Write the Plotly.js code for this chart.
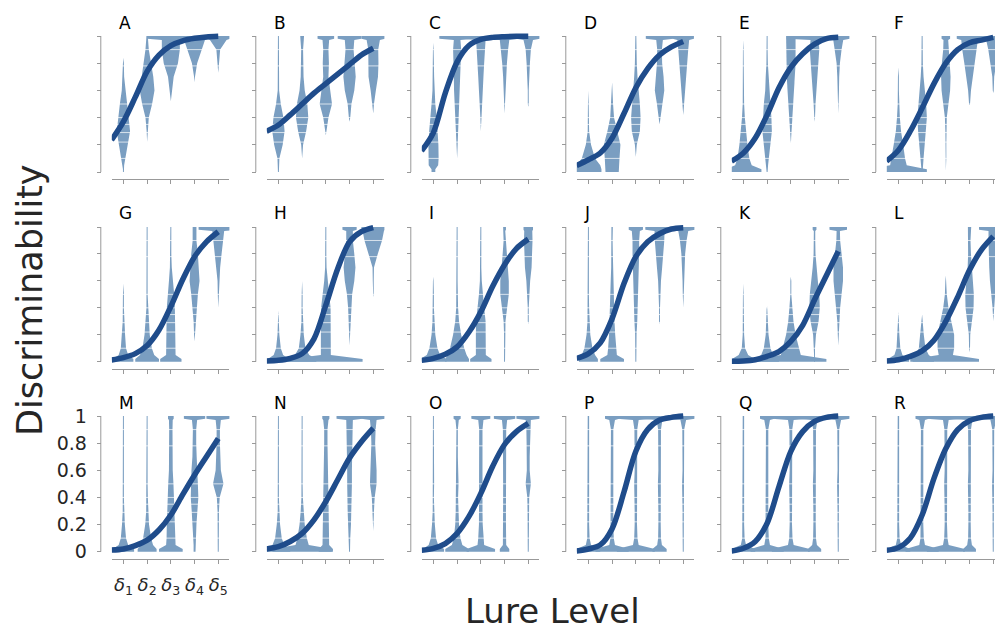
<!DOCTYPE html>
<html><head><meta charset="utf-8">
<script src="https://cdn.plot.ly/plotly-3.0.1.min.js"></script>
<style>html,body{margin:0;padding:0;overflow:hidden;background:#fff;width:995px;height:628px}</style>
</head><body><div id="chart" style="width:1010px;height:628px"></div>
<script>
// ---------------- DATA ----------------
const PANELS = ['A','B','C','D','E','F','G','H','I','J','K','L','M','N','O','P','Q','R'];
const LURE_X = [1, 2, 3, 4, 5];
const LURE_LABELS = ['<i>δ</i><sub>1</sub>','<i>δ</i><sub>2</sub>','<i>δ</i><sub>3</sub>','<i>δ</i><sub>4</sub>','<i>δ</i><sub>5</sub>'];
const Y_TICKS = [0, 0.2, 0.4, 0.6, 0.8, 1];
const Y_TICK_LABELS = ['0', '0.2', '0.4', '0.6', '0.8', '1'];
// density profile levels (half-widths of each violin are given at these levels)
const LEVELS = [0, 0.05, 0.1, 0.2, 0.3, 0.4, 0.5, 0.6, 0.7, 0.8, 0.9, 0.97, 1];
const CURVE_X = [0.5, 1, 1.5, 2, 2.5, 3, 3.5, 4, 4.5, 5];
const GRID_Y = [0.1, 0.22, 0.29, 0.35, 0.4, 0.5, 0.78, 0.9];

const A_curve = [0.235, 0.37, 0.55, 0.74, 0.86, 0.93, 0.965, 0.983, 0.993, 0.998];
const A_lo = [0, 0.22, 0.52, 0.66, 0.73];
const A_hi = [0.84, 1, 1, 1, 1];
const A_w = [
 [0.02, 0.03, 0.08, 0.19, 0.28, 0.22, 0.15, 0.07, 0.03, 0.02, 0, 0, 0],
 [0, 0, 0, 0, 0.02, 0.07, 0.21, 0.31, 0.26, 0.15, 0.07, 0.04, 0.03],
 [0, 0, 0, 0, 0, 0, 0, 0.04, 0.12, 0.3, 0.38, 0.38, 1.0],
 [0, 0, 0, 0, 0, 0, 0, 0, 0.02, 0.11, 0.31, 0.44, 0.6],
 [0, 0, 0, 0, 0, 0, 0, 0, 0, 0.03, 0.08, 0.35, 0.5]];

const B_curve = [0.30, 0.345, 0.42, 0.50, 0.58, 0.65, 0.72, 0.79, 0.86, 0.91];
const B_lo = [0, 0.1, 0.27, 0.37, 0.43];
const B_hi = [1, 1, 1, 1, 1];
const B_w = [
 [0.02, 0.02, 0.04, 0.18, 0.26, 0.21, 0.1, 0.03, 0.02, 0.02, 0.02, 0.02, 0.02],
 [0, 0, 0, 0.04, 0.17, 0.26, 0.22, 0.11, 0.06, 0.04, 0.04, 0.07, 0.08],
 [0, 0, 0, 0, 0.02, 0.11, 0.26, 0.18, 0.11, 0.13, 0.11, 0.14, 0.35],
 [0, 0, 0, 0, 0, 0.03, 0.08, 0.2, 0.26, 0.22, 0.17, 0.2, 0.5],
 [0, 0, 0, 0, 0, 0, 0.03, 0.11, 0.2, 0.22, 0.21, 0.28, 0.5]];

const C_curve = [0.155, 0.29, 0.58, 0.81, 0.93, 0.975, 0.99, 0.995, 0.998, 0.999];
const C_lo = [0, 0.1, 0.3, 0.43, 0.48];
const C_hi = [0.95, 1, 1, 1, 1];
const C_w = [
 [0.08, 0.2, 0.22, 0.21, 0.18, 0.14, 0.08, 0.04, 0.03, 0.02, 0.02, 0, 0],
 [0, 0, 0, 0.02, 0.04, 0.08, 0.11, 0.13, 0.14, 0.14, 0.17, 0.14, 0.75],
 [0, 0, 0, 0, 0, 0.02, 0.04, 0.08, 0.11, 0.14, 0.17, 0.2, 0.75],
 [0, 0, 0, 0, 0, 0, 0.02, 0.03, 0.06, 0.1, 0.15, 0.2, 0.6],
 [0, 0, 0, 0, 0, 0, 0.02, 0.02, 0.03, 0.07, 0.11, 0.2, 0.5]];

const D_curve = [0.047, 0.09, 0.14, 0.25, 0.43, 0.62, 0.76, 0.86, 0.92, 0.96];
const D_lo = [0, 0, 0.11, 0.35, 0.42];
const D_hi = [0.6, 0.66, 1, 1, 1];
const D_w = [
 [0.55, 0.5, 0.28, 0.11, 0.03, 0.02, 0.02, 0, 0, 0, 0, 0, 0],
 [0.28, 0.28, 0.31, 0.35, 0.2, 0.08, 0.04, 0.02, 0, 0, 0, 0, 0],
 [0, 0, 0, 0.04, 0.17, 0.2, 0.17, 0.11, 0.07, 0.04, 0.03, 0.02, 0.02],
 [0, 0, 0, 0, 0, 0.04, 0.11, 0.2, 0.17, 0.11, 0.1, 0.14, 0.58],
 [0, 0, 0, 0, 0, 0, 0.03, 0.07, 0.11, 0.17, 0.21, 0.25, 0.45]];

const E_curve = [0.08, 0.14, 0.25, 0.42, 0.62, 0.77, 0.87, 0.94, 0.98, 0.99];
const E_lo = [0, 0, 0.21, 0.37, 0.43];
const E_hi = [0.97, 1, 1, 1, 1];
const E_w = [
 [0.76, 0.35, 0.25, 0.17, 0.1, 0.06, 0.03, 0.02, 0.02, 0.02, 0.02, 0, 0],
 [0.02, 0.04, 0.07, 0.14, 0.2, 0.18, 0.14, 0.08, 0.06, 0.03, 0.02, 0.02, 0.02],
 [0, 0, 0, 0, 0.03, 0.07, 0.11, 0.14, 0.17, 0.2, 0.2, 0.2, 0.2],
 [0, 0, 0, 0, 0, 0.02, 0.04, 0.08, 0.13, 0.17, 0.2, 0.17, 1.17],
 [0, 0, 0, 0, 0, 0, 0.02, 0.03, 0.04, 0.07, 0.14, 0.21, 0.5]];

const F_curve = [0.08, 0.16, 0.30, 0.47, 0.65, 0.80, 0.90, 0.95, 0.97, 0.99];
const F_lo = [0, 0, 0.01, 0.49, 0.58];
const F_hi = [0.77, 1, 1, 1, 1];
const F_w = [
 [1.2, 0.35, 0.28, 0.2, 0.11, 0.06, 0.03, 0.02, 0.02, 0, 0, 0, 0],
 [0.02, 0.04, 0.06, 0.11, 0.17, 0.2, 0.17, 0.11, 0.06, 0.03, 0.02, 0.02, 0.02],
 [0, 0.02, 0.02, 0.02, 0.02, 0.04, 0.11, 0.18, 0.2, 0.17, 0.11, 0.1, 0.18],
 [0, 0, 0, 0, 0, 0, 0.02, 0.06, 0.14, 0.22, 0.31, 0.35, 0.54],
 [0, 0, 0, 0, 0, 0, 0, 0.02, 0.04, 0.11, 0.21, 0.3, 0.5]];

const G_curve = [0.012, 0.03, 0.06, 0.12, 0.235, 0.41, 0.61, 0.78, 0.89, 0.965];
const G_lo = [0, 0, 0, 0.15, 0.4];
const G_hi = [0.58, 1, 1, 1, 1];
const G_w = [
 [0.42, 0.2, 0.11, 0.07, 0.03, 0.02, 0.02, 0, 0, 0, 0, 0, 0],
 [0.5, 0.3, 0.2, 0.11, 0.07, 0.03, 0.02, 0.02, 0.02, 0.02, 0.02, 0.02, 0.02],
 [0.45, 0.2, 0.2, 0.2, 0.18, 0.17, 0.14, 0.08, 0.04, 0.02, 0.02, 0.02, 0.02],
 [0, 0, 0, 0.02, 0.04, 0.08, 0.14, 0.21, 0.18, 0.14, 0.08, 0.08, 0.08],
 [0, 0, 0, 0, 0, 0, 0.02, 0.03, 0.08, 0.14, 0.21, 0.25, 0.83]];

const H_curve = [0.005, 0.01, 0.025, 0.06, 0.17, 0.42, 0.69, 0.89, 0.965, 0.995];
const H_lo = [0, 0, 0, 0.12, 0.48];
const H_hi = [0.38, 0.6, 1, 1, 1];
const H_w = [
 [0.45, 0.2, 0.1, 0.04, 0.02, 0, 0, 0, 0, 0, 0, 0, 0],
 [0.6, 0.3, 0.14, 0.07, 0.03, 0.02, 0.02, 0, 0, 0, 0, 0, 0],
 [1.55, 0.21, 0.21, 0.21, 0.21, 0.2, 0.14, 0.07, 0.03, 0.02, 0.02, 0.02, 0.02],
 [0, 0, 0, 0.02, 0.03, 0.06, 0.11, 0.2, 0.25, 0.2, 0.14, 0.14, 0.3],
 [0, 0, 0, 0, 0, 0, 0.02, 0.02, 0.03, 0.19, 0.37, 0.45, 0.5]];

const I_curve = [0.01, 0.025, 0.055, 0.11, 0.22, 0.37, 0.56, 0.72, 0.84, 0.91];
const I_lo = [0, 0, 0, 0, 0.28];
const I_hi = [0.63, 1, 1, 1, 1];
const I_w = [
 [0.55, 0.28, 0.17, 0.08, 0.04, 0.02, 0.02, 0.02, 0, 0, 0, 0, 0],
 [0.5, 0.4, 0.3, 0.17, 0.08, 0.04, 0.02, 0.02, 0.02, 0.02, 0.02, 0.02, 0.02],
 [0.45, 0.21, 0.21, 0.21, 0.2, 0.14, 0.08, 0.04, 0.02, 0.02, 0.02, 0.02, 0.02],
 [0.02, 0.02, 0.02, 0.02, 0.04, 0.11, 0.18, 0.18, 0.14, 0.08, 0.04, 0.03, 0.06],
 [0, 0, 0, 0, 0.02, 0.02, 0.04, 0.08, 0.14, 0.17, 0.18, 0.17, 0.2]];

const J_curve = [0.025, 0.06, 0.14, 0.32, 0.58, 0.78, 0.89, 0.95, 0.985, 0.995];
const J_lo = [0, 0, 0, 0.28, 0.4];
const J_hi = [1, 1, 1, 1, 1];
const J_w = [
 [0.4, 0.28, 0.17, 0.08, 0.04, 0.03, 0.02, 0.02, 0.02, 0.02, 0.02, 0.02, 0.02],
 [0.5, 0.2, 0.17, 0.13, 0.1, 0.08, 0.07, 0.06, 0.04, 0.03, 0.02, 0.02, 0.03],
 [0.02, 0.02, 0.02, 0.03, 0.06, 0.08, 0.1, 0.11, 0.13, 0.14, 0.14, 0.17, 0.3],
 [0, 0, 0, 0, 0.02, 0.02, 0.03, 0.06, 0.11, 0.17, 0.2, 0.21, 0.6],
 [0, 0, 0, 0, 0, 0, 0.02, 0.03, 0.04, 0.08, 0.14, 0.21, 0.5]];

const K_curve = [0.003, 0.005, 0.015, 0.04, 0.075, 0.15, 0.27, 0.46, 0.64, 0.82];
const K_lo = [0, 0, 0, 0, 0.12];
const K_hi = [0.58, 0.41, 0.63, 1, 1];
const K_w = [
 [0.48, 0.2, 0.07, 0.03, 0.02, 0.02, 0.02, 0, 0, 0, 0, 0, 0],
 [0.5, 0.25, 0.14, 0.06, 0.03, 0.02, 0, 0, 0, 0, 0, 0, 0],
 [1.5, 0.42, 0.34, 0.2, 0.11, 0.06, 0.02, 0.02, 0, 0, 0, 0, 0],
 [0.02, 0.02, 0.02, 0.06, 0.17, 0.22, 0.2, 0.14, 0.08, 0.04, 0.03, 0.03, 0.08],
 [0, 0, 0, 0.02, 0.04, 0.08, 0.14, 0.2, 0.2, 0.14, 0.08, 0.07, 0.37]];

const L_curve = [0.005, 0.015, 0.04, 0.08, 0.16, 0.30, 0.48, 0.68, 0.83, 0.93];
const L_lo = [0, 0, 0, 0.07, 0.3];
const L_hi = [0.37, 0.35, 0.64, 1, 1];
const L_w = [
 [0.45, 0.17, 0.08, 0.04, 0.02, 0, 0, 0, 0, 0, 0, 0, 0],
 [0.5, 0.28, 0.14, 0.07, 0.03, 0, 0, 0, 0, 0, 0, 0, 0],
 [1.4, 0.3, 0.35, 0.35, 0.23, 0.11, 0.04, 0.02, 0, 0, 0, 0, 0],
 [0, 0, 0.02, 0.03, 0.11, 0.17, 0.18, 0.14, 0.08, 0.06, 0.04, 0.04, 0.07],
 [0, 0, 0, 0, 0, 0.03, 0.08, 0.14, 0.17, 0.2, 0.2, 0.2, 0.6]];

const M_curve = [0.012, 0.02, 0.045, 0.085, 0.16, 0.27, 0.42, 0.565, 0.70, 0.835];
const M_lo = [0, 0, 0, 0, 0];
const M_hi = [1, 1, 1, 1, 1];
const M_w = [
 [0.45, 0.2, 0.11, 0.06, 0.03, 0.02, 0.02, 0.02, 0.02, 0.02, 0.02, 0.02, 0.02],
 [0.4, 0.25, 0.17, 0.08, 0.04, 0.03, 0.02, 0.02, 0.02, 0.02, 0.02, 0.02, 0.02],
 [0.5, 0.2, 0.18, 0.17, 0.15, 0.14, 0.11, 0.08, 0.07, 0.07, 0.07, 0.08, 0.12],
 [0.04, 0.04, 0.06, 0.08, 0.12, 0.16, 0.14, 0.13, 0.09, 0.07, 0.07, 0.11, 0.45],
 [0.02, 0.02, 0.02, 0.02, 0.03, 0.06, 0.22, 0.11, 0.08, 0.07, 0.07, 0.11, 0.5]];

const N_curve = [0.02, 0.037, 0.075, 0.135, 0.235, 0.37, 0.53, 0.69, 0.81, 0.91];
const N_lo = [0, 0, 0, 0, 0.15];
const N_hi = [1, 1, 1, 1, 1];
const N_w = [
 [0.5, 0.25, 0.14, 0.07, 0.03, 0.02, 0.02, 0.02, 0.02, 0.02, 0.02, 0.02, 0.02],
 [1.25, 0.28, 0.2, 0.11, 0.06, 0.03, 0.02, 0.02, 0.02, 0.02, 0.02, 0.02, 0.02],
 [0.3, 0.14, 0.14, 0.13, 0.11, 0.11, 0.1, 0.08, 0.07, 0.07, 0.07, 0.11, 0.15],
 [0.02, 0.02, 0.03, 0.06, 0.08, 0.1, 0.1, 0.1, 0.1, 0.11, 0.13, 0.14, 0.55],
 [0, 0, 0, 0.02, 0.03, 0.06, 0.14, 0.14, 0.1, 0.08, 0.1, 0.14, 0.5]];

const O_curve = [0.01, 0.025, 0.06, 0.135, 0.26, 0.43, 0.63, 0.79, 0.885, 0.945];
const O_lo = [0, 0, 0, 0, 0];
const O_hi = [1, 1, 1, 1, 1];
const O_w = [
 [0.45, 0.2, 0.11, 0.06, 0.03, 0.02, 0.03, 0.02, 0.02, 0.02, 0.02, 0.02, 0.02],
 [0.5, 0.22, 0.14, 0.08, 0.06, 0.04, 0.06, 0.03, 0.03, 0.03, 0.03, 0.07, 0.15],
 [0.6, 0.14, 0.11, 0.08, 0.07, 0.07, 0.07, 0.07, 0.07, 0.07, 0.07, 0.11, 0.4],
 [0.2, 0.07, 0.06, 0.06, 0.06, 0.06, 0.06, 0.06, 0.06, 0.06, 0.07, 0.11, 0.45],
 [0.02, 0.02, 0.02, 0.02, 0.03, 0.04, 0.11, 0.06, 0.06, 0.07, 0.08, 0.11, 0.5]];

const P_curve = [0.005, 0.02, 0.05, 0.17, 0.44, 0.74, 0.90, 0.97, 0.99, 1.0];
const P_lo = [0, 0, 0, 0, 0];
const P_hi = [1, 1, 1, 1, 1];
const P_w = [
 [0.5, 0.11, 0.05, 0.03, 0.03, 0.03, 0.06, 0.03, 0.03, 0.03, 0.03, 0.03, 0.03],
 [0.7, 0.12, 0.07, 0.05, 0.05, 0.05, 0.07, 0.05, 0.05, 0.05, 0.05, 0.12, 0.3],
 [0.8, 0.12, 0.07, 0.05, 0.05, 0.05, 0.07, 0.05, 0.05, 0.05, 0.06, 0.12, 0.8],
 [0.3, 0.1, 0.06, 0.05, 0.05, 0.05, 0.07, 0.05, 0.05, 0.05, 0.06, 0.12, 0.8],
 [0.02, 0.02, 0.02, 0.03, 0.03, 0.03, 0.05, 0.03, 0.03, 0.03, 0.04, 0.12, 0.5]];

const Q_curve = [0.005, 0.025, 0.075, 0.21, 0.48, 0.74, 0.885, 0.96, 0.99, 1.0];
const Q_lo = [0, 0, 0, 0, 0];
const Q_hi = [1, 1, 1, 1, 1];
const Q_w = [
 [0.5, 0.11, 0.05, 0.03, 0.03, 0.03, 0.06, 0.03, 0.03, 0.03, 0.03, 0.03, 0.03],
 [0.7, 0.12, 0.07, 0.05, 0.05, 0.05, 0.07, 0.05, 0.05, 0.05, 0.05, 0.12, 0.3],
 [0.8, 0.12, 0.07, 0.05, 0.05, 0.05, 0.07, 0.05, 0.05, 0.05, 0.06, 0.12, 0.8],
 [0.28, 0.1, 0.06, 0.05, 0.05, 0.05, 0.07, 0.05, 0.05, 0.05, 0.06, 0.12, 0.8],
 [0.02, 0.02, 0.02, 0.03, 0.03, 0.03, 0.05, 0.03, 0.03, 0.03, 0.04, 0.12, 0.5]];

const R_curve = [0.01, 0.03, 0.10, 0.27, 0.54, 0.76, 0.90, 0.965, 0.99, 1.0];
const R_lo = [0, 0, 0, 0, 0];
const R_hi = [1, 1, 1, 1, 1];
const R_w = [
 [0.5, 0.11, 0.05, 0.03, 0.03, 0.03, 0.06, 0.03, 0.03, 0.03, 0.03, 0.03, 0.03],
 [0.7, 0.12, 0.07, 0.05, 0.05, 0.05, 0.07, 0.05, 0.05, 0.05, 0.05, 0.12, 0.28],
 [0.8, 0.12, 0.07, 0.05, 0.05, 0.05, 0.07, 0.05, 0.05, 0.05, 0.06, 0.12, 0.8],
 [0.27, 0.1, 0.06, 0.05, 0.05, 0.05, 0.07, 0.05, 0.05, 0.05, 0.06, 0.12, 0.8],
 [0.02, 0.02, 0.02, 0.03, 0.03, 0.03, 0.05, 0.03, 0.03, 0.03, 0.04, 0.12, 0.5]];

// ---------------- BUILD ----------------
const SRC = {
  A:[A_curve,A_lo,A_hi,A_w], B:[B_curve,B_lo,B_hi,B_w], C:[C_curve,C_lo,C_hi,C_w],
  D:[D_curve,D_lo,D_hi,D_w], E:[E_curve,E_lo,E_hi,E_w], F:[F_curve,F_lo,F_hi,F_w],
  G:[G_curve,G_lo,G_hi,G_w], H:[H_curve,H_lo,H_hi,H_w], I:[I_curve,I_lo,I_hi,I_w],
  J:[J_curve,J_lo,J_hi,J_w], K:[K_curve,K_lo,K_hi,K_w], L:[L_curve,L_lo,L_hi,L_w],
  M:[M_curve,M_lo,M_hi,M_w], N:[N_curve,N_lo,N_hi,N_w], O:[O_curve,O_lo,O_hi,O_w],
  P:[P_curve,P_lo,P_hi,P_w], Q:[Q_curve,Q_lo,Q_hi,Q_w], R:[R_curve,R_lo,R_hi,R_w]
};

const W = 1010, H = 628;
const VIOLIN_COLOR = 'rgb(122,158,193)';
const CURVE_COLOR = '#1f4c8b';
const AXIS_COLOR = '#999999';
const TEXT_COLOR = '#262626';
const FONT = 'DejaVu Sans, sans-serif';
const CAP = 0.02;
const XR = [0.51, 5.47];
const YPAD = 0.04;
const rowTop = [36, 227, 416];
const rowBot = [172, 361.7, 551.7];
const colPlotLeft = c => 111.8 + 155 * c;
const PLOT_W = 117.6;
const colSpine = c => 100.8 + 155 * c;
// a no-break space after each y label keeps the gap to the tick marks as in the reference
const yLabelText = Y_TICK_LABELS.map(t => t + '\u00a0');

function violinPoly(c, lo, hi, w) {
  const right = [];
  if (lo <= 0) { right.push([w[0], 0], [w[0], CAP]); } else { right.push([0, lo]); }
  for (let i = 1; i <= 11; i++) {
    if (LEVELS[i] > lo && LEVELS[i] < hi) right.push([w[i], LEVELS[i]]);
  }
  if (hi >= 1) { right.push([w[12], 1 - CAP], [w[12], 1]); } else { right.push([0, hi]); }
  const xs = [], ys = [];
  right.forEach(p => { xs.push(c + p[0]); ys.push(p[1]); });
  for (let i = right.length - 1; i >= 0; i--) { xs.push(c - right[i][0]); ys.push(right[i][1]); }
  return {xs, ys};
}

const traces = [];
const layout = {
  width: W, height: H, margin: {l: 0, r: 0, t: 0, b: 0},
  paper_bgcolor: '#fff', plot_bgcolor: 'rgba(0,0,0,0)',
  showlegend: false, font: {family: FONT, color: TEXT_COLOR},
  shapes: [], annotations: []
};

PANELS.forEach((name, k) => {
  const r = Math.floor(k / 6), c = k % 6;
  const sfx = k === 0 ? '' : String(k + 1);
  const xa = 'x' + sfx, ya = 'y' + sfx;
  const [curve, lo, hi, wid] = SRC[name];

  LURE_X.forEach((cx, j) => {
    const p = violinPoly(cx, lo[j], hi[j], wid[j]);
    traces.push({type: 'scatter', mode: 'lines', x: p.xs, y: p.ys, xaxis: xa, yaxis: ya,
      fill: 'toself', fillcolor: VIOLIN_COLOR, line: {width: 0, color: VIOLIN_COLOR},
      hoverinfo: 'skip'});
  });
  const gx = [], gy = [];
  GRID_Y.forEach(g => { gx.push(XR[0], XR[1], null); gy.push(g, g, null); });
  traces.push({type: 'scatter', mode: 'lines', x: gx, y: gy, xaxis: xa, yaxis: ya,
    line: {color: 'rgba(255,255,255,0.7)', width: 1}, hoverinfo: 'skip'});
  traces.push({type: 'scatter', mode: 'lines', x: CURVE_X, y: curve, xaxis: xa, yaxis: ya,
    line: {color: CURVE_COLOR, width: 5.5, shape: 'spline', smoothing: 0.9}, hoverinfo: 'skip'});

  const pxU = rowBot[r] - rowTop[r];
  const dTop = rowTop[r] - YPAD * pxU, dBot = rowBot[r] + YPAD * pxU;
  const x0 = colPlotLeft(c);
  const isCorner = (name === 'M');
  layout['xaxis' + sfx] = {
    domain: [x0 / W, (x0 + PLOT_W) / W], range: XR, anchor: 'free',
    position: (H - (rowBot[r] + 7)) / H,
    showline: true, linecolor: AXIS_COLOR, linewidth: 1,
    ticks: 'outside', ticklen: 4, tickwidth: 1, tickcolor: AXIS_COLOR,
    tickmode: 'array', tickvals: LURE_X, ticktext: LURE_LABELS,
    showticklabels: isCorner, ticklabelstandoff: 6,
    tickfont: {size: 18, color: TEXT_COLOR, family: FONT},
    showgrid: false, zeroline: false, fixedrange: true
  };
  layout['yaxis' + sfx] = {
    domain: [(H - dBot) / H, (H - dTop) / H], range: [-YPAD, 1 + YPAD], anchor: 'free',
    position: colSpine(c) / W,
    showline: false, ticks: 'outside', ticklen: 4, tickwidth: 1, tickcolor: AXIS_COLOR,
    tickmode: 'array', tickvals: Y_TICKS, ticktext: yLabelText,
    showticklabels: isCorner,
    tickfont: {size: 19, color: TEXT_COLOR, family: FONT},
    showgrid: false, zeroline: false, fixedrange: true
  };
  layout.shapes.push({type: 'line', xref: 'paper', yref: ya,
    x0: colSpine(c) / W, x1: colSpine(c) / W, y0: 0, y1: 1,
    line: {color: AXIS_COLOR, width: 1}});
  layout.annotations.push({text: name, xref: 'paper', yref: 'paper',
    x: (117 + 155 * c) / W, y: (H - (23 + 190 * r)) / H, xanchor: 'left', yanchor: 'middle',
    showarrow: false, font: {size: 17, color: '#000', family: FONT}});
});

layout.annotations.push({text: 'Discriminability', xref: 'paper', yref: 'paper',
  x: 30 / W, y: (H - 300) / H, xanchor: 'center', yanchor: 'middle', textangle: -90,
  showarrow: false, font: {size: 35, color: TEXT_COLOR, family: FONT}});
layout.annotations.push({text: 'Lure Level', xref: 'paper', yref: 'paper',
  x: 552 / W, y: (H - 611) / H, xanchor: 'center', yanchor: 'middle',
  showarrow: false, font: {size: 34, color: TEXT_COLOR, family: FONT}});

Plotly.newPlot('chart', traces, layout, {displayModeBar: false, staticPlot: true});
</script></body></html>
